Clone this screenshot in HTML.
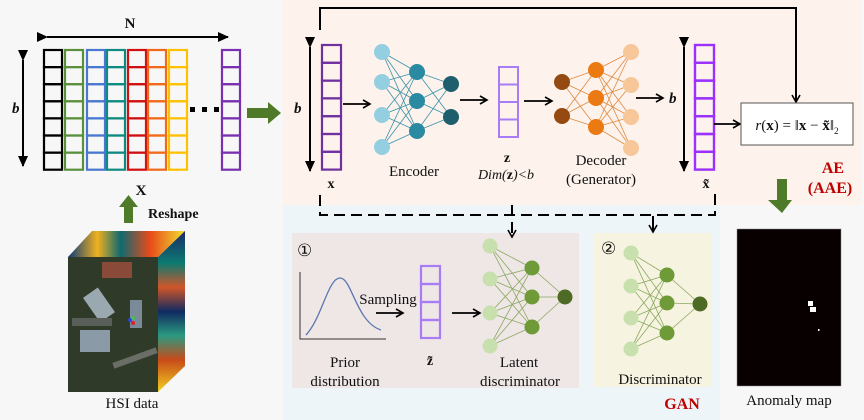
<!DOCTYPE html>
<html><head><meta charset="utf-8"><style>
html,body{margin:0;padding:0;background:#f7f7f7}
svg{display:block}
text{font-family:"Liberation Serif",serif;fill:#111}
</style></head><body>
<svg id="s" width="864" height="420" viewBox="0 0 864 420" xmlns="http://www.w3.org/2000/svg">
<defs>
<marker id="ah" markerWidth="10" markerHeight="10" refX="8" refY="5" orient="auto" markerUnits="userSpaceOnUse"><path d="M1,1 L8,5 L1,9" fill="none" stroke="#000" stroke-width="1.6"/></marker>
<marker id="tri" markerWidth="12" markerHeight="12" refX="10" refY="6" orient="auto" markerUnits="userSpaceOnUse"><path d="M0,1 L11,6 L0,11 Z" fill="#000"/></marker>
<linearGradient id="side" x1="0" y1="0" x2="0" y2="1">
<stop offset="0" stop-color="#1a2a6a"/><stop offset=".2" stop-color="#0d7a70"/><stop offset=".35" stop-color="#d0562a"/><stop offset=".5" stop-color="#102a60"/><stop offset=".65" stop-color="#2a9a80"/><stop offset=".8" stop-color="#c84a1a"/><stop offset="1" stop-color="#f0d020"/></linearGradient>
<linearGradient id="topg" x1="0" y1="0" x2="1" y2="0">
<stop offset="0" stop-color="#0a3a7a"/><stop offset=".25" stop-color="#f0b020"/><stop offset=".45" stop-color="#0d6a70"/><stop offset=".7" stop-color="#e84a1a"/><stop offset="1" stop-color="#f0e030"/></linearGradient>
</defs>
<rect x="283" y="0" width="578" height="205" fill="#fdf3ec"/>
<rect x="283" y="205" width="437" height="215" fill="#edf5f8"/>
<rect x="292" y="233" width="287" height="155" fill="#efe6e6"/>
<rect x="594" y="233" width="118" height="154" fill="#f6f3e0"/>

<g id="mat" fill="none" stroke-width="2.2"></g>
<line x1="47" y1="37" x2="228" y2="37" stroke="#000" stroke-width="2" marker-start="url(#tri)" marker-end="url(#tri)"/>
<text x="130" y="28" font-size="15" font-weight="bold" text-anchor="middle">N</text>
<line x1="23" y1="60" x2="23" y2="166" stroke="#000" stroke-width="2" marker-start="url(#tri)" marker-end="url(#tri)"/>
<text x="12" y="113" font-size="15" font-weight="bold" font-style="italic">b</text>
<g fill="#000"><rect x="190" y="107" width="5" height="5"/><rect x="202" y="107" width="5" height="5"/><rect x="214" y="107" width="5" height="5"/></g>
<path d="M247,108 H268 V102 L281,113 L268,124 V118 H247 Z" fill="#4f7a2a"/>
<text x="141" y="195" font-size="15" font-weight="bold" text-anchor="middle">X</text>
<path d="M124,223 V207 H119 L128.5,195 L138,207 H133 V223 Z" fill="#4f7a2a"/>
<text x="148" y="218" font-size="14" font-weight="bold">Reshape</text>
<polygon points="68,257 92,231 185,231 158,257" fill="url(#topg)"/>
<polygon points="158,257 185,231 185,366 158,392" fill="url(#side)"/>
<rect x="68" y="257" width="90" height="135" fill="#2f3a28"/>
<rect x="102" y="262" width="30" height="16" fill="#8a4a3a"/>
<rect x="90" y="290" width="18" height="30" fill="#9aa8b0" transform="rotate(-35 99 305)"/>
<rect x="80" y="330" width="30" height="22" fill="#8a9aa6"/>
<rect x="130" y="300" width="12" height="28" fill="#7a8a98"/>
<rect x="72" y="318" width="40" height="8" fill="#5a5e58"/>
<rect x="112" y="355" width="46" height="6" fill="#6a6e66" transform="rotate(-20 135 358)"/>
<circle cx="130" cy="320" r="2" fill="#3040e0"/><circle cx="133" cy="323" r="2" fill="#e02020"/><circle cx="133" cy="318" r="1.8" fill="#30d040"/>
<text x="132" y="408" font-size="15" text-anchor="middle">HSI data</text>

<polyline points="320,30 320,8 796,8 796,102" fill="none" stroke="#000" stroke-width="2" marker-end="url(#ah)"/>
<g id="xcol"></g>
<line x1="310" y1="47" x2="310" y2="171" stroke="#000" stroke-width="2" marker-start="url(#tri)" marker-end="url(#tri)"/>
<text x="294" y="113" font-size="15" font-weight="bold" font-style="italic">b</text>
<text x="331" y="188" font-size="14" font-weight="bold" text-anchor="middle">x</text>
<line x1="343" y1="104" x2="370" y2="104" stroke="#000" stroke-width="1.8" marker-end="url(#ah)"/>
<g id="nets"></g>
<text x="414" y="176" font-size="15" text-anchor="middle">Encoder</text>
<line x1="460" y1="100" x2="487" y2="100" stroke="#000" stroke-width="1.8" marker-end="url(#ah)"/>
<text x="507" y="162" font-size="14" font-weight="bold" text-anchor="middle">z</text>
<text x="506" y="179" font-size="14" font-style="italic" text-anchor="middle">Dim(<tspan font-weight="bold" font-style="normal">z</tspan>)&lt;b</text>
<line x1="524" y1="101" x2="552" y2="101" stroke="#000" stroke-width="1.8" marker-end="url(#ah)"/>
<text x="601" y="165" font-size="15" text-anchor="middle">Decoder</text>
<text x="601" y="184" font-size="15" text-anchor="middle">(Generator)</text>
<line x1="636" y1="98" x2="663" y2="98" stroke="#000" stroke-width="1.8" marker-end="url(#ah)"/>
<text x="669" y="103" font-size="15" font-weight="bold" font-style="italic">b</text>
<line x1="684" y1="47" x2="684" y2="171" stroke="#000" stroke-width="2" marker-start="url(#tri)" marker-end="url(#tri)"/>
<text x="706" y="188" font-size="14" font-weight="bold" text-anchor="middle">x̃</text>
<line x1="714" y1="124" x2="740" y2="124" stroke="#000" stroke-width="1.8" marker-end="url(#ah)"/>
<rect x="741" y="103" width="112" height="42" fill="#fff" stroke="#555" stroke-width="1"/>
<text x="797" y="130" font-size="15" text-anchor="middle"><tspan font-style="italic">r</tspan>(<tspan font-weight="bold">x</tspan>) = ‖<tspan font-weight="bold">x</tspan> − <tspan font-weight="bold">x̃</tspan>‖<tspan font-size="9" dy="4">2</tspan></text>
<text x="833" y="173" font-size="16" font-weight="bold" text-anchor="middle" style="fill:#c00000">AE</text>
<text x="830" y="193" font-size="16" font-weight="bold" text-anchor="middle" style="fill:#c00000">(AAE)</text>
<path d="M777,179 H787 V200 H792 L782,213 L768,200 H777 Z" fill="#4f7a2a"/>

<polyline points="320,195 320,215 715,215 715,190" fill="none" stroke="#000" stroke-width="2" stroke-dasharray="11,6"/>
<line x1="512" y1="205" x2="512" y2="237" stroke="#000" stroke-width="2" stroke-dasharray="11,6" marker-end="url(#ah)"/>
<line x1="653" y1="216" x2="653" y2="232" stroke="#000" stroke-width="2" marker-end="url(#ah)"/>

<text x="297" y="256" font-size="17">①</text>
<polyline points="300,272 300,339 386,339" fill="none" stroke="#333" stroke-width="1"/>
<path d="M306,335 C322,318 328,278 340,278 C352,278 356,322 381,330" fill="none" stroke="#5a78b0" stroke-width="1.3"/>
<text x="388" y="304" font-size="15" text-anchor="middle">Sampling</text>
<line x1="376" y1="313" x2="403" y2="313" stroke="#000" stroke-width="1.8" marker-end="url(#ah)"/>
<g id="zt"></g>
<text x="430" y="365" font-size="14" font-weight="bold" text-anchor="middle">z̃</text>
<line x1="452" y1="313" x2="480" y2="313" stroke="#000" stroke-width="1.8" marker-end="url(#ah)"/>
<text x="345" y="367" font-size="15" text-anchor="middle">Prior</text>
<text x="345" y="386" font-size="15" text-anchor="middle">distribution</text>
<text x="519" y="367" font-size="15" text-anchor="middle">Latent</text>
<text x="520" y="386" font-size="15" text-anchor="middle">discriminator</text>
<text x="601" y="254" font-size="17">②</text>
<text x="660" y="384" font-size="15" text-anchor="middle">Discriminator</text>
<text x="682" y="409" font-size="16" font-weight="bold" text-anchor="middle" style="fill:#c00000">GAN</text>
<rect x="737" y="229" width="104" height="157" fill="#080000" stroke="#888" stroke-width="0.5"/>
<rect x="808" y="301" width="5" height="5" fill="#fff"/><rect x="810" y="307" width="6" height="5" fill="#fff"/>
<rect x="818" y="329" width="1.5" height="2" fill="#fff"/>
<text x="789" y="405" font-size="15" text-anchor="middle">Anomaly map</text>
</svg>
<script>
var NS="http://www.w3.org/2000/svg";
function el(p,t,a){var e=document.createElementNS(NS,t);for(var k in a)e.setAttribute(k,a[k]);p.appendChild(e);return e;}
var mat=document.getElementById('mat');
var cols=[[44,'#000'],[65,'#5a8f3c'],[87,'#4a78d0'],[107,'#0f8a82'],[128,'#d01010'],[148,'#f06a1a'],[169,'#ffc000'],[222,'#7a30b0']];
cols.forEach(function(c){for(var i=0;i<7;i++)el(mat,'rect',{x:c[0],y:50+i*17.1,width:18,height:17.1,stroke:c[1],fill:'none','stroke-width':2.2});});
function col(g,x,y,w,h,n,color,sw){g=document.getElementById(g);for(var i=0;i<n;i++)el(g,'rect',{x:x,y:y+i*h,width:w,height:h,fill:'none',stroke:color,'stroke-width':sw});}
col('xcol',322,45,19,17.8,7,'#7030a0',2.2);
col('nets',695,45,19,17.8,7,'#9b30ff',2.4);
col('nets',499,67,19,17.5,4,'#a77cf5',2);
col('zt',421,266,19,18,4,'#a77cf5',2.2);
var nets=document.getElementById('nets');
function net(layers,lc,r){
 for(var l=0;l<layers.length-1;l++){var A=layers[l],B=layers[l+1];
  A.ys.forEach(function(a){B.ys.forEach(function(b){el(nets,'line',{x1:A.x,y1:a,x2:B.x,y2:b,stroke:lc,'stroke-width':0.8});});});}
 layers.forEach(function(L){L.ys.forEach(function(y){el(nets,'circle',{cx:L.x,cy:y,r:L.r||r,fill:L.c});});});
}
net([{x:382,ys:[52,82,115,147],c:'#93cfe0'},{x:417,ys:[72,101,131],c:'#2a8aa2'},{x:451,ys:[84,117],c:'#1f5e6c'}],'#3a92a8',8);
net([{x:562,ys:[82,116],c:'#944a10'},{x:596,ys:[70,98,127],c:'#ec7a12'},{x:631,ys:[52,85,117,148],c:'#f7c79a'}],'#e08a40',8);
net([{x:490,ys:[246,279,313,346],c:'#c8e0ae'},{x:532,ys:[268,297,327],c:'#6e9a38'},{x:565,ys:[297],c:'#4e6b26'}],'#8aa860',7.5);
net([{x:631,ys:[253,286,318,349],c:'#c8e0ae'},{x:667,ys:[275,303,333],c:'#6e9a38'},{x:700,ys:[304],c:'#4e6b26'}],'#8aa860',7.5);
</script>
</body></html>
